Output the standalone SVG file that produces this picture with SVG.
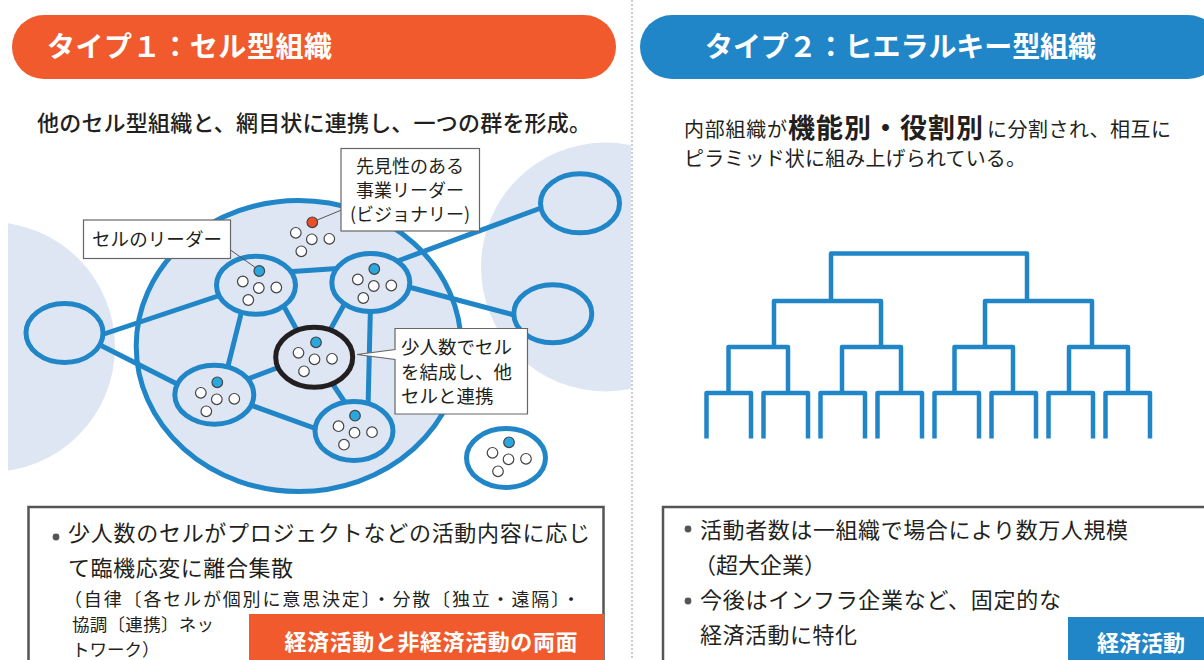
<svg xmlns="http://www.w3.org/2000/svg" xmlns:xlink="http://www.w3.org/1999/xlink" width="1204" height="660" viewBox="0 0 1204 660">
<style>
.t{font-family:'Noto Sans CJK JP','Noto Sans CJK SC',sans-serif;fill:#231f20;}
.hw{font-family:'Noto Sans CJK JP','Noto Sans CJK SC',sans-serif;fill:#fff;font-weight:700;}
.ln{stroke:#2186c7;stroke-width:5;fill:none;}
.cell{stroke:#2186c7;stroke-width:5;fill:#dfe6f3;}
.ring{stroke:#2186c7;stroke-width:5;fill:none;}
.wd{fill:#fff;stroke:#444;stroke-width:1.2;}
.bd{fill:#29a8e0;stroke:#444;stroke-width:1.2;}
.rd{fill:#ee4e23;stroke:#444;stroke-width:1.2;}
.tree{stroke:#2186c7;stroke-width:4.5;fill:none;stroke-linejoin:round;}
.lbl{fill:#fff;stroke:#666;stroke-width:1.2;}
.lead{stroke:#555;stroke-width:1;fill:none;}
.box{fill:#fff;stroke:#555;stroke-width:2.5;}
</style>
<defs>
<g id="whites">
<circle class="wd" cx="-16.5" cy="10.5" r="5.3"/>
<circle class="wd" cx="-0.5" cy="17" r="5.3"/>
<circle class="wd" cx="17" cy="16.5" r="5.3"/>
<circle class="wd" cx="-11" cy="29" r="5.3"/>
</g>
<clipPath id="leftPanel"><rect x="8" y="0" width="623" height="660"/></clipPath>
</defs>
<rect width="1204" height="660" fill="#fff"/>

<!-- divider -->
<line x1="632" y1="0" x2="632" y2="660" stroke="#999" stroke-width="1" stroke-dasharray="2,2"/>

<!-- headers -->
<g id="header1">
<rect x="12" y="15" width="604" height="64" rx="32" fill="#f05a2c"/>
<text class="hw" x="47" y="57" font-size="28" textLength="285" lengthAdjust="spacing">タイプ１：セル型組織</text>
</g>
<g id="header2">
<rect x="640" y="15" width="580" height="64" rx="32" fill="#2186c7"/>
<text class="hw" x="705" y="57" font-size="28" textLength="391" lengthAdjust="spacing">タイプ２：ヒエラルキー型組織</text>
</g>

<text class="t" x="37" y="131" font-size="22" font-weight="500" textLength="554" lengthAdjust="spacing">他のセル型組織と、網目状に連携し、一つの群を形成。</text>

<!-- background circles -->
<g clip-path="url(#leftPanel)">
<circle cx="-10" cy="347" r="125" fill="#dfe6f3"/>
<circle cx="605.5" cy="267" r="124.5" fill="#dfe6f3"/>
</g>

<!-- big group circle -->
<g id="group">
<ellipse class="cell" cx="298.7" cy="346" rx="162.5" ry="145.5"/>
</g>

<!-- connectors -->
<g id="connectors">
<line class="ln" x1="104" y1="334" x2="230" y2="292"/>
<line class="ln" x1="100" y1="345" x2="185" y2="388"/>
<line class="ln" x1="285" y1="272" x2="345" y2="268"/>
<line class="ln" x1="242" y1="310" x2="227" y2="370"/>
<line class="ln" x1="282" y1="303" x2="298" y2="332"/>
<line class="ln" x1="345" y1="303" x2="329" y2="332"/>
<line class="ln" x1="370.5" y1="305" x2="368" y2="408"/>
<line class="ln" x1="245" y1="380" x2="282" y2="366"/>
<line class="ln" x1="330" y1="380" x2="348" y2="407"/>
<line class="ln" x1="245" y1="403" x2="325" y2="432"/>
<line class="ln" x1="395" y1="262" x2="541" y2="208"/>
<line class="ln" x1="405" y1="286" x2="514" y2="315"/>
</g>

<!-- outer ellipses -->
<g id="left-org"><ellipse class="ring" cx="64.5" cy="333" rx="38.5" ry="29.5"/></g>
<g id="right-org-1"><ellipse class="ring" cx="580" cy="203.3" rx="39.5" ry="29.5"/></g>
<g id="right-org-2"><ellipse class="ring" cx="552.8" cy="313.8" rx="39" ry="29"/></g>

<!-- cells -->
<g id="cell-a">
<ellipse class="cell" cx="256" cy="285.3" rx="39.5" ry="29"/>
<circle class="bd" cx="259.3" cy="271" r="5.3"/>
<use xlink:href="#whites" x="259.3" y="271"/>
</g>
<g id="cell-b">
<ellipse class="cell" cx="214.3" cy="394.7" rx="39.5" ry="29.5"/>
<circle class="bd" cx="217.3" cy="382.3" r="5.3"/>
<use xlink:href="#whites" x="217.3" y="382.3"/>
</g>
<g id="cell-c">
<ellipse class="cell" cx="370.8" cy="282.5" rx="39" ry="29"/>
<circle class="bd" cx="374.3" cy="269" r="5.3"/>
<use xlink:href="#whites" x="374.3" y="269"/>
</g>
<g id="cell-d">
<ellipse cx="314.2" cy="357.2" rx="38.5" ry="30" fill="#dfe6f3" stroke="#231f20" stroke-width="5"/>
<circle class="bd" cx="316" cy="342.3" r="5.3"/>
<use xlink:href="#whites" x="315" y="342.3"/>
</g>
<g id="cell-e">
<ellipse class="cell" cx="354" cy="431" rx="39" ry="29.5"/>
<circle class="bd" cx="355" cy="415.7" r="5.3"/>
<use xlink:href="#whites" x="355" y="415.7"/>
</g>
<g id="cell-f">
<ellipse class="cell" cx="506" cy="458" rx="39.5" ry="29.5" style="fill:#fff"/>
<circle class="bd" cx="509" cy="442.3" r="5.3"/>
<use xlink:href="#whites" x="509" y="442.3"/>
</g>
<g id="visionary">
<circle class="rd" cx="312.3" cy="222.3" r="5.3"/>
<use xlink:href="#whites" x="312.3" y="222.3"/>
</g>

<!-- labels -->
<g id="label-visionary">
<line class="lead" x1="341.5" y1="210" x2="316" y2="220.5"/>
<rect class="lbl" x="341" y="148.5" width="138.5" height="82.5"/>
<text class="t" x="410" y="173" font-size="18" text-anchor="middle">先見性のある</text>
<text class="t" x="410" y="197" font-size="18" text-anchor="middle">事業リーダー</text>
<text class="t" x="410" y="221" font-size="18" text-anchor="middle">(ビジョナリー)</text>
</g>
<g id="label-leader">
<line class="lead" x1="230.5" y1="250" x2="256" y2="268"/>
<rect class="lbl" x="83.5" y="220" width="147" height="38.5"/>
<text class="t" x="92" y="246" font-size="18.5" textLength="130" lengthAdjust="spacing">セルのリーダー</text>
</g>
<g id="label-small">
<path d="M395,328.5 H527.5 V414 H395 V359.5 L357,354.5 L395,349.5 Z" fill="#fff" stroke="#666" stroke-width="1.2" stroke-linejoin="miter"/>
<text class="t" x="401" y="354" font-size="18.5" textLength="111" lengthAdjust="spacing">少人数でセル</text>
<text class="t" x="401" y="379" font-size="18.5" textLength="111" lengthAdjust="spacing">を結成し、他</text>
<text class="t" x="401" y="403" font-size="18.5">セルと連携</text>
</g>

<!-- right description -->
<text class="t" x="684" y="137" font-size="20" textLength="103" lengthAdjust="spacing">内部組織が</text>
<text class="t" x="788" y="138" font-size="27" font-weight="700" textLength="195" lengthAdjust="spacing">機能別・役割別</text>
<text class="t" x="987" y="137" font-size="20" textLength="184" lengthAdjust="spacing">に分割され、相互に</text>
<text class="t" x="684" y="166" font-size="20" textLength="342" lengthAdjust="spacing">ピラミッド状に組み上げられている。</text>

<!-- hierarchy tree -->
<g id="tree">
<path class="tree" d="M831,301 V253.5 H1027 V301"/>
<path class="tree" d="M774,347 V301 H881 V347"/>
<path class="tree" d="M985,347 V301 H1092 V347"/>
<path class="tree" d="M728.5,393 V347 H788 V393"/>
<path class="tree" d="M842,393 V347 H901 V393"/>
<path class="tree" d="M954.5,393 V347 H1013 V393"/>
<path class="tree" d="M1069,393 V347 H1128 V393"/>
<path class="tree" d="M706.5,438.5 V393 H751 V438.5"/>
<path class="tree" d="M763.5,438.5 V393 H808 V438.5"/>
<path class="tree" d="M820.5,438.5 V393 H865 V438.5"/>
<path class="tree" d="M877.5,438.5 V393 H922 V438.5"/>
<path class="tree" d="M934.5,438.5 V393 H979 V438.5"/>
<path class="tree" d="M991.5,438.5 V393 H1036 V438.5"/>
<path class="tree" d="M1048.5,438.5 V393 H1093 V438.5"/>
<path class="tree" d="M1105.5,438.5 V393 H1150 V438.5"/>
</g>

<!-- bottom left box -->
<g id="box-left">
<rect class="box" x="28.5" y="507" width="575" height="170"/>
<circle cx="56" cy="537" r="3.4" fill="#555"/>
<text class="t" x="68" y="541" font-size="22" textLength="522" lengthAdjust="spacing">少人数のセルがプロジェクトなどの活動内容に応じ</text>
<text class="t" x="68" y="576" font-size="22" textLength="225" lengthAdjust="spacing">て臨機応変に離合集散</text>
<text class="t" x="64" y="606" font-size="18" textLength="516" lengthAdjust="spacing">（自律〔各セルが個別に意思決定〕・分散〔独立・遠隔〕・</text>
<text class="t" x="72" y="631" font-size="17.5" textLength="142" lengthAdjust="spacing">協調〔連携〕ネッ</text>
<text class="t" x="72" y="656" font-size="17.5">トワーク）</text>
<rect x="249" y="614" width="355" height="50" fill="#f05a2c"/>
<text class="hw" x="431" y="650" font-size="22" text-anchor="middle" textLength="293" lengthAdjust="spacing">経済活動と非経済活動の両面</text>
</g>

<!-- bottom right box -->
<g id="box-right">
<rect class="box" x="663" y="507" width="560" height="170"/>
<circle cx="688" cy="529" r="3.4" fill="#555"/>
<text class="t" x="700" y="538" font-size="22" textLength="428" lengthAdjust="spacing">活動者数は一組織で場合により数万人規模</text>
<text class="t" x="694" y="573" font-size="22">（超大企業）</text>
<circle cx="688" cy="601" r="3.4" fill="#555"/>
<text class="t" x="700" y="608" font-size="22" textLength="361" lengthAdjust="spacing">今後はインフラ企業など、固定的な</text>
<text class="t" x="700" y="643" font-size="22" textLength="157" lengthAdjust="spacing">経済活動に特化</text>
<rect x="1068" y="617" width="140" height="50" fill="#2186c7"/>
<text class="hw" x="1141" y="651" font-size="22" text-anchor="middle">経済活動</text>
</g>
</svg>
